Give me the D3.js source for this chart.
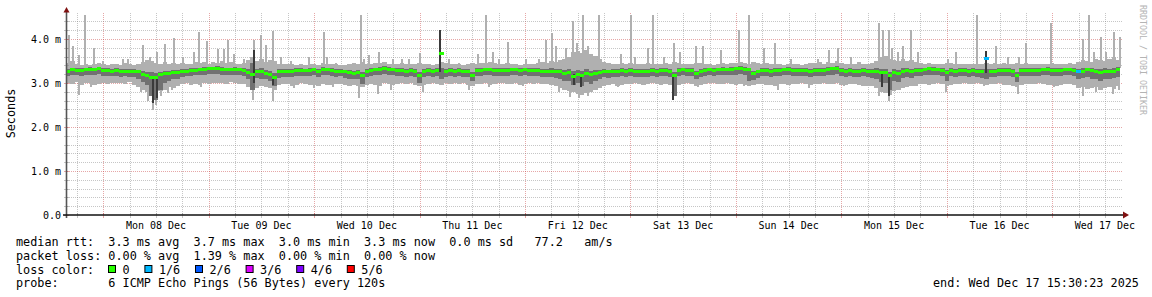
<!DOCTYPE html>
<html><head><meta charset="utf-8">
<script src="https://cdn.jsdelivr.net/npm/d3@7"></script>
<style>
html,body{margin:0;padding:0;background:#fff;}
svg{display:block;}
text{font-family:"DejaVu Sans Mono",monospace;fill:#000;white-space:pre;}
</style></head><body>
<svg id="c" width="1152" height="297"></svg>
<script>
// ---------------- data ----------------
const dayLabels = ["Mon 08 Dec","Tue 09 Dec","Wed 10 Dec","Thu 11 Dec","Fri 12 Dec","Sat 13 Dec","Sun 14 Dec","Mon 15 Dec","Tue 16 Dec","Wed 17 Dec"];
const yTicks = [0,1,2,3,4];
const yTickLabels = ["0.0","1.0 m","2.0 m","3.0 m","4.0 m"];

// hourly bins starting Wed Dec 7 15:30:23 (values in ms)
const med = [
3.26,3.31,3.29,3.28,3.30,3.31,3.30,3.33,3.29,3.28,
3.27,3.28,3.27,3.27,3.26,3.26,3.25,3.20,3.18,3.13,
3.12,3.20,3.22,3.21,3.24,3.24,3.27,3.27,3.28,3.29,
3.31,3.31,3.33,3.32,3.33,3.31,3.31,3.30,3.31,3.30,
3.29,3.24,3.19,3.26,3.25,3.22,3.20,3.12,3.25,3.26,
3.26,3.27,3.28,3.28,3.28,3.29,3.30,3.27,3.31,3.31,
3.28,3.27,3.27,3.25,3.24,3.22,3.24,3.17,3.27,3.29,
3.30,3.31,3.34,3.31,3.30,3.28,3.28,3.27,3.28,3.27,
3.18,3.26,3.28,3.27,3.28,3.66,3.27,3.28,3.27,3.28,
3.27,3.26,3.18,3.28,3.29,3.30,3.30,3.29,3.28,3.28,
3.29,3.30,3.30,3.29,3.30,3.29,3.28,3.28,3.27,3.27,
3.27,3.26,3.25,3.22,3.23,3.15,3.20,3.17,3.22,3.19,
3.21,3.24,3.26,3.25,3.27,3.27,3.28,3.27,3.28,3.27,
3.26,3.27,3.27,3.28,3.27,3.28,3.29,3.27,3.18,3.29,
3.30,3.29,3.28,3.22,3.27,3.29,3.30,3.29,3.30,3.31,
3.30,3.31,3.32,3.33,3.31,3.30,3.21,3.25,3.28,3.28,
3.27,3.28,3.29,3.30,3.31,3.29,3.28,3.29,3.28,3.27,
3.28,3.29,3.29,3.31,3.32,3.33,3.29,3.27,3.28,3.27,
3.27,3.28,3.27,3.26,3.27,3.24,3.23,3.17,3.24,3.22,
3.27,3.28,3.26,3.28,3.29,3.30,3.32,3.31,3.30,3.29,
3.24,3.28,3.27,3.28,3.28,3.27,3.28,3.27,3.26,3.56,
3.27,3.26,3.28,3.28,3.28,3.27,3.18,3.28,3.29,3.29,
3.28,3.29,3.30,3.31,3.29,3.28,3.29,3.30,3.30,3.29,
3.26,3.27,3.30,3.28,3.26,3.24,3.27,3.25,3.27,3.30];

// outer smoke (slowest / fastest ping)
const hi = [
3.45,3.50,3.42,3.40,3.44,3.41,3.43,3.45,3.42,3.40,
3.44,3.42,3.41,3.46,3.43,3.40,3.42,3.48,3.52,3.50,
3.46,3.44,3.48,3.42,3.45,3.43,3.46,3.44,3.42,3.48,
3.45,3.47,3.44,3.48,3.46,3.50,3.45,3.47,3.44,3.42,
3.46,3.52,3.60,3.50,3.55,3.48,3.52,3.50,3.44,3.42,
3.43,3.42,3.41,3.43,3.40,3.42,3.44,3.41,3.46,3.43,
3.42,3.44,3.41,3.40,3.43,3.45,3.42,3.48,3.44,3.42,
3.46,3.45,3.48,3.44,3.43,3.42,3.45,3.43,3.44,3.42,
3.46,3.44,3.42,3.41,3.43,3.48,3.45,3.44,3.42,3.43,
3.41,3.42,3.45,3.44,3.46,3.45,3.48,3.46,3.44,3.43,
3.45,3.42,3.43,3.41,3.44,3.43,3.42,3.45,3.48,3.46,
3.50,3.48,3.52,3.55,3.58,3.70,3.72,3.68,3.75,3.65,
3.62,3.55,3.48,3.46,3.43,3.44,3.46,3.42,3.45,3.43,
3.42,3.44,3.46,3.44,3.43,3.42,3.45,3.43,3.48,3.46,
3.44,3.43,3.42,3.46,3.45,3.42,3.43,3.41,3.44,3.46,
3.43,3.45,3.46,3.48,3.45,3.44,3.47,3.45,3.43,3.46,
3.44,3.42,3.43,3.41,3.44,3.42,3.43,3.41,3.42,3.45,
3.46,3.48,3.44,3.48,3.46,3.50,3.45,3.43,3.44,3.42,
3.48,3.44,3.43,3.45,3.50,3.58,3.62,3.55,3.52,3.50,
3.55,3.50,3.52,3.48,3.45,3.43,3.46,3.44,3.43,3.42,
3.45,3.46,3.44,3.43,3.42,3.44,3.43,3.42,3.44,3.45,
3.43,3.45,3.44,3.46,3.43,3.44,3.45,3.43,3.46,3.44,
3.43,3.42,3.44,3.43,3.45,3.42,3.44,3.43,3.45,3.44,
3.48,3.52,3.50,3.48,3.55,3.52,3.50,3.55,3.58,3.52];

const lo = [
3.00,2.98,3.02,2.95,2.99,3.01,2.96,2.98,3.00,2.97,
3.01,2.99,3.00,2.98,3.02,2.96,2.90,2.85,2.80,2.70,
2.72,2.82,2.85,2.90,2.88,2.93,2.97,2.99,2.95,2.98,
2.96,3.00,2.98,3.01,2.99,3.00,2.97,3.02,3.00,2.98,
2.97,2.90,2.85,2.88,2.92,2.90,2.88,2.85,2.95,2.97,
2.98,2.94,2.96,2.99,2.97,2.95,2.96,2.94,2.97,2.95,
2.96,2.98,2.97,2.95,2.93,2.96,2.92,2.90,2.95,2.98,
2.96,2.94,2.99,2.97,2.95,2.98,3.00,2.97,2.99,2.96,
2.92,2.95,2.98,2.99,2.97,2.96,2.99,2.98,3.00,2.97,
2.99,2.95,2.93,2.97,2.98,2.99,2.96,2.98,3.00,2.99,
2.97,2.98,3.00,2.96,2.98,2.99,2.97,3.00,2.98,2.97,
2.95,2.92,2.88,2.85,2.82,2.80,2.75,2.72,2.78,2.80,
2.85,2.88,2.92,2.95,2.97,2.94,2.96,2.98,2.97,2.99,
2.98,2.96,2.97,2.99,2.98,2.96,2.97,2.95,2.90,2.96,
2.98,2.99,2.97,2.94,2.96,2.98,2.99,3.00,2.97,2.98,
2.99,2.97,2.96,2.98,2.95,2.94,2.96,2.98,2.97,2.95,
2.96,2.94,2.97,2.98,2.96,2.97,2.98,2.99,2.97,2.95,
2.97,2.98,2.99,2.97,2.98,2.99,2.96,2.95,2.97,2.98,
2.96,2.94,2.92,2.93,2.88,2.80,2.78,2.72,2.82,2.85,
2.88,2.90,2.92,2.94,2.97,2.98,2.96,2.98,2.99,2.97,
2.93,2.95,2.97,2.98,2.99,2.97,2.98,2.99,2.97,2.96,
2.98,2.97,2.99,2.96,2.95,2.94,2.90,2.96,2.98,2.97,
2.98,2.99,2.97,2.96,2.95,2.93,2.96,2.98,2.97,2.95,
2.88,2.90,2.86,2.88,2.90,2.85,2.88,2.90,2.86,2.92];

// middle smoke (2nd / 5th ping)
const mhi = [
3.32,3.35,3.34,3.33,3.35,3.36,3.34,3.37,3.34,3.33,
3.32,3.33,3.32,3.31,3.31,3.31,3.30,3.28,3.26,3.24,
3.22,3.26,3.28,3.27,3.29,3.29,3.32,3.31,3.33,3.34,
3.35,3.36,3.37,3.37,3.38,3.36,3.35,3.35,3.36,3.35,
3.34,3.32,3.45,3.32,3.33,3.30,3.28,3.22,3.31,3.31,
3.31,3.32,3.33,3.33,3.32,3.34,3.35,3.32,3.36,3.35,
3.33,3.32,3.32,3.30,3.29,3.28,3.29,3.25,3.32,3.34,
3.35,3.36,3.38,3.36,3.35,3.33,3.33,3.32,3.33,3.32,
3.26,3.31,3.33,3.32,3.33,3.33,3.32,3.33,3.32,3.33,
3.32,3.31,3.25,3.33,3.34,3.35,3.35,3.34,3.33,3.33,
3.34,3.35,3.35,3.34,3.35,3.34,3.33,3.33,3.32,3.32,
3.33,3.32,3.32,3.30,3.32,3.28,3.30,3.28,3.32,3.28,
3.30,3.30,3.31,3.30,3.32,3.32,3.33,3.32,3.33,3.32,
3.31,3.32,3.32,3.33,3.32,3.33,3.34,3.32,3.26,3.34,
3.35,3.34,3.33,3.28,3.32,3.34,3.35,3.34,3.35,3.36,
3.35,3.36,3.37,3.38,3.36,3.35,3.28,3.30,3.33,3.33,
3.32,3.33,3.34,3.35,3.36,3.34,3.33,3.34,3.33,3.32,
3.33,3.34,3.34,3.36,3.37,3.38,3.34,3.32,3.33,3.32,
3.32,3.33,3.32,3.31,3.33,3.32,3.31,3.26,3.32,3.30,
3.33,3.33,3.32,3.33,3.34,3.35,3.37,3.36,3.35,3.34,
3.30,3.33,3.32,3.33,3.33,3.32,3.33,3.32,3.31,3.31,
3.32,3.31,3.33,3.33,3.33,3.32,3.25,3.33,3.34,3.34,
3.33,3.34,3.35,3.36,3.34,3.33,3.34,3.35,3.35,3.34,
3.32,3.33,3.35,3.34,3.32,3.31,3.33,3.31,3.34,3.36];

const mlo = [
3.15,3.18,3.17,3.15,3.18,3.19,3.17,3.20,3.16,3.15,
3.15,3.16,3.14,3.15,3.13,3.14,3.10,3.02,2.95,2.70,
2.62,2.85,3.00,3.05,3.08,3.10,3.14,3.15,3.16,3.17,
3.19,3.18,3.20,3.20,3.21,3.19,3.18,3.18,3.19,3.18,
3.16,3.08,2.85,3.12,3.10,3.08,3.05,2.92,3.12,3.14,
3.13,3.14,3.15,3.16,3.15,3.16,3.17,3.14,3.18,3.18,
3.15,3.14,3.15,3.12,3.10,3.08,3.10,2.98,3.14,3.16,
3.17,3.18,3.20,3.18,3.17,3.15,3.16,3.14,3.15,3.14,
3.00,3.13,3.15,3.14,3.16,3.10,3.14,3.15,3.14,3.15,
3.14,3.13,3.05,3.15,3.16,3.17,3.17,3.16,3.15,3.15,
3.16,3.17,3.17,3.16,3.17,3.16,3.15,3.15,3.14,3.14,
3.13,3.12,3.10,3.05,3.05,2.95,3.00,2.92,3.02,2.98,
3.05,3.10,3.13,3.12,3.14,3.14,3.15,3.14,3.15,3.14,
3.13,3.14,3.14,3.15,3.14,3.15,3.16,3.14,2.70,3.16,
3.17,3.16,3.15,3.08,3.14,3.16,3.17,3.16,3.17,3.18,
3.17,3.18,3.19,3.20,3.18,3.05,3.06,3.12,3.15,3.15,
3.14,3.15,3.16,3.17,3.18,3.16,3.15,3.16,3.15,3.14,
3.15,3.16,3.16,3.18,3.19,3.20,3.16,3.14,3.15,3.14,
3.14,3.15,3.13,3.12,3.10,3.02,3.00,2.85,3.05,3.02,
3.12,3.14,3.12,3.15,3.16,3.17,3.19,3.18,3.17,3.16,
3.05,3.15,3.14,3.15,3.15,3.14,3.15,3.14,3.12,3.10,
3.14,3.13,3.15,3.15,3.15,3.14,3.02,3.15,3.16,3.16,
3.15,3.16,3.17,3.18,3.16,3.15,3.16,3.17,3.17,3.16,
3.10,3.12,3.14,3.10,3.08,3.05,3.10,3.08,3.12,3.14];

// isolated slow pings [hours after start, top in ms]
const spikes = [
[0.5,4.09],[1.3,3.83],[2.8,3.64],[4.1,4.55],[6.1,3.80],[8.1,3.50],[12.7,3.55],[13.8,3.55],
[17.2,3.86],[19.0,3.60],[20.6,3.70],[22.2,3.88],[24.4,4.02],[26.3,3.60],[29.0,3.70],[30.1,4.15],
[31.8,3.95],[34.3,3.78],[35.8,3.78],[36.6,3.98],[38.1,3.65],[40.4,3.55],[42.6,3.98],[44.2,4.09],
[45.3,3.86],[47.0,4.17],[48.7,3.60],[51.0,3.50],[55.2,3.60],[58.6,4.15],[59.3,3.60],
[61.2,3.45],[66.9,4.55],[67.7,3.55],[68.8,3.64],[71.1,3.70],[74.1,3.55],[76.3,3.55],[77.9,3.55],
[80.3,3.67],[87.0,3.55],[89.3,3.45],[93.5,3.65],[95.4,4.55],[96.9,3.70],[98.4,3.55],[100.5,3.94],
[104.5,3.55],[107.5,3.55],[109.0,3.98],[110.5,4.13],[111.2,3.85],[113.5,3.80],[115.1,4.40],
[116.2,3.90],[117.4,4.55],[118.6,3.85],
[121.2,4.55],[126.1,3.65],[128.4,4.55],[129.2,3.60],[132.3,3.80],[133.5,4.55],[135.9,3.60],
[138.2,3.90],[139.6,3.70],[143.2,3.85],[144.7,3.85],[148.9,3.75],[153.0,4.20],[155.2,4.55],
[158.7,3.80],[161.2,3.90],[164.8,3.55],[170.9,3.55],[173.5,3.75],[175.4,3.80],[178.5,3.60],
[184.9,4.36],[185.7,4.20],[187.2,4.20],[187.9,3.80],[189.1,3.70],[190.2,3.85],[192.1,4.20],
[193.6,3.70],[200.5,3.55],[202.4,3.70],[207.1,4.55],[211.4,3.85],[214.1,3.60],[216.7,3.60],
[218.3,3.90],[224.0,4.36],[231.2,4.00],[232.7,4.55],[233.8,3.70],[235.4,4.05],[236.5,3.70],
[238.4,4.15],[239.6,4.05]];

// isolated fast pings [hours after start, bottom in ms]
const dips = [
[2.8,2.73],[5.5,2.90],[16.8,2.80],[18.5,2.60],[19.5,2.38],[20.3,2.50],[21.4,2.70],[22.9,2.78],
[24.0,2.85],[30.5,2.90],[42.3,2.62],[47.0,2.60],[51.7,2.88],[56.3,2.88],
[60.5,2.90],[66.5,2.65],[70.7,2.75],[73.8,2.85],[81.0,2.80],[91.6,2.85],[96.1,2.90],[103.7,2.92],
[112.1,2.80],[114.5,2.68],[116.5,2.65],[118.5,2.70],
[120.0,2.85],[125.4,2.90],[137.9,2.61],[143.6,2.90],[154.2,2.92],[161.8,2.85],[169.0,2.88],[176.9,2.92],
[184.9,2.70],[187.2,2.58],[189.4,2.85],[200.1,2.80],[208.8,2.92],[216.4,2.75],[224.7,2.90],
[231.2,2.70],[234.2,2.80],[238.0,2.75],[239.5,2.85]];

// inner (3rd / 4th ping) smoke where visible [hours, low, high]
const darkBars = [
[19.5,2.55,3.15],[20.5,2.65,3.12],[42.5,3.00,3.75],[47.0,2.95,3.15],[84.9,3.25,4.20],
[115.5,2.95,3.20],[117.0,2.90,3.18],[137.9,2.62,3.20],[185.5,2.90,3.28],[187.0,2.70,3.20],
[209.2,3.22,3.72]];

// bins with packet loss [bin, lost pings]
const lossBins = [[209,1],[230,1]];

const lossLabels = ["0","1/6","2/6","3/6","4/6","5/6"];
const lossColors = ["#26ff00","#00b8ff","#0059ff","#dd00ff","#7e00ff","#ff0000"];
const legendRows = [
"median rtt:  3.3 ms avg  3.7 ms max  3.0 ms min  3.3 ms now  0.0 ms sd   77.2   am/s",
"packet loss: 0.00 % avg  1.39 % max  0.00 % min  0.00 % now",
"loss color:",
"probe:       6 ICMP Echo Pings (56 Bytes) every 120s"];
const endLabel = "end: Wed Dec 17 15:30:23 2025";
const yAxisTitle = "Seconds";
const watermark = "RRDTOOL / TOBI OETIKER";

// ---------------- drawing ----------------
const svg = d3.select("#c");
const H = 3600e3;
const midnight8 = Date.UTC(2025, 11, 8);
const binStart = Date.UTC(2025, 11, 7, 15, 30, 23);
const X0 = 67, X1 = 1123, YB = 215, YT = 13;
const x = d3.scaleUtc()
  .domain([new Date(midnight8 - 8.26 * H), new Date(midnight8 + 232.11 * H)])
  .range([X0, X1]);
const y = d3.scaleLinear().domain([0, 4.59]).range([YB, YT]);
const bx = h => x(new Date(binStart + h * H));

const minCol = "rgba(128,128,128,0.45)";
const majCol = "rgba(200,60,60,0.45)";

// grid
const grid = svg.append("g");
const [d0, d1] = x.domain();
d3.utcHour.every(6).range(d0, d1).forEach(t => {
  const maj = t.getUTCHours() === 0;
  const xx = Math.round(x(t)) + 0.5;
  grid.append("line").attr("x1", xx).attr("x2", xx).attr("y1", YT).attr("y2", YB)
    .attr("stroke", maj ? majCol : minCol).attr("stroke-dasharray", "1,1");
});
d3.range(1, 23).forEach(k => {
  const v = k * 0.2;
  const yy = Math.round(y(v)) + 0.5;
  const maj = k % 5 === 0;
  grid.append("line").attr("x1", X0).attr("x2", X1).attr("y1", yy).attr("y2", yy)
    .attr("stroke", maj ? majCol : minCol).attr("stroke-dasharray", "1,1");
});

// data
svg.append("clipPath").attr("id", "clip").append("rect")
  .attr("x", X0).attr("y", YT).attr("width", X1 - X0).attr("height", YB - YT);
const g = svg.append("g").attr("clip-path", "url(#clip)").attr("shape-rendering", "crispEdges");
const idx = d3.range(med.length);
const C1 = "#b0b0b0", C2 = "#717171", C3 = "#3a3a3a";

g.selectAll(".s1").data(idx).join("rect")
  .attr("x", i => bx(i)).attr("width", i => bx(i + 1) - bx(i))
  .attr("y", i => y(hi[i])).attr("height", i => y(lo[i]) - y(hi[i])).attr("fill", C1);
g.selectAll(".sp").data(spikes).join("rect")
  .attr("x", d => bx(d[0])).attr("width", 2)
  .attr("y", d => y(d[1])).attr("height", d => y(3.35) - y(d[1])).attr("fill", C1);
g.selectAll(".dp").data(dips).join("rect")
  .attr("x", d => bx(d[0])).attr("width", 2)
  .attr("y", y(3.15)).attr("height", d => y(d[1]) - y(3.15)).attr("fill", C1);
g.selectAll(".s2").data(idx).join("rect")
  .attr("x", i => bx(i)).attr("width", i => bx(i + 1) - bx(i))
  .attr("y", i => y(mhi[i])).attr("height", i => y(mlo[i]) - y(mhi[i])).attr("fill", C2);
g.selectAll(".s3").data(darkBars).join("rect")
  .attr("x", d => bx(d[0])).attr("width", 2)
  .attr("y", d => y(d[2])).attr("height", d => y(d[1]) - y(d[2])).attr("fill", C3);
const lossOf = i => { const f = lossBins.find(d => d[0] === i); return f ? f[1] : 0; };
g.selectAll(".md").data(idx).join("rect")
  .attr("x", i => bx(i)).attr("width", i => bx(i + 1) - bx(i))
  .attr("y", i => y(med[i]) - 1.5).attr("height", 3)
  .attr("fill", i => lossColors[lossOf(i)]);

// axis ticks
const ax = svg.append("g").attr("shape-rendering", "crispEdges");
d3.utcHour.every(6).range(d0, d1).forEach(t => {
  const maj = t.getUTCHours() === 0;
  const xx = Math.round(x(t)) + 0.5;
  ax.append("line").attr("x1", xx).attr("x2", xx).attr("y1", YB - 2).attr("y2", YB + 3)
    .attr("stroke", maj ? majCol : minCol);
});
d3.range(0, 23).forEach(k => {
  const yy = Math.round(y(k * 0.2)) + 0.5;
  const maj = k % 5 === 0;
  ax.append("line").attr("x1", X0 - 3).attr("x2", X0 + 2).attr("y1", yy).attr("y2", yy)
    .attr("stroke", maj ? majCol : minCol);
});

// axes
svg.append("line").attr("x1", 66.5).attr("x2", 66.5).attr("y1", 11).attr("y2", 218)
  .attr("stroke", "#555").attr("stroke-width", 1.6);
svg.append("line").attr("x1", 63).attr("x2", 1124).attr("y1", 215).attr("y2", 215)
  .attr("stroke", "#111").attr("stroke-width", 1.6);
svg.append("path").attr("d", "M63.5,12.5 L69.5,12.5 L66.5,7 Z").attr("fill", "#7f1010");
svg.append("path").attr("d", "M1123,211.5 L1123,218.5 L1129,215 Z").attr("fill", "#7f1010");

// tick labels
svg.selectAll(".yl").data(yTicks).join("text")
  .attr("x", 61).attr("y", d => y(d) + 3.6).attr("text-anchor", "end")
  .attr("font-size", "10px").text((d, i) => yTickLabels[i]);
svg.selectAll(".xl").data(dayLabels).join("text")
  .attr("x", (d, k) => x(new Date(midnight8 + (k * 24 + 12) * H)))
  .attr("y", 228.5).attr("text-anchor", "middle").attr("font-size", "10px").text(d => d);

svg.append("text").attr("transform", "translate(15,113.5) rotate(-90)")
  .attr("text-anchor", "middle").attr("font-size", "11.8px").text(yAxisTitle);
svg.append("text").attr("transform", "translate(1139.5,5) rotate(90)")
  .attr("font-size", "8.3px").style("fill", "#b4b4b4").text(watermark);

// legend
const CW = 7.1;
svg.selectAll(".lg").data(legendRows).join("text")
  .attr("x", 16).attr("y", (d, k) => 245.7 + k * 13.9).attr("font-size", "11.8px").text(d => d);
let bxp = 108.5;
lossLabels.forEach((lab, k) => {
  svg.append("rect").attr("x", bxp).attr("y", 265.5).attr("width", 7).attr("height", 7)
    .attr("fill", lossColors[k]).attr("stroke", "#000").attr("stroke-width", 1);
  svg.append("text").attr("x", bxp + 14).attr("y", 273.5).attr("font-size", "11.8px").text(lab);
  bxp = bxp + 14 + lab.length * CW + 15.3;
});
svg.append("text").attr("x", 933).attr("y", 287.4).attr("font-size", "11.8px").text(endLabel);
</script>
</body></html>
